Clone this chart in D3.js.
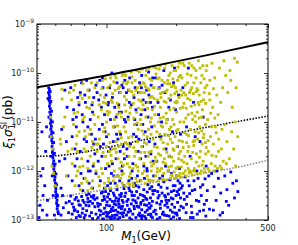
<!DOCTYPE html>
<html>
<head>
<meta charset="utf-8">
<script src="https://cdnjs.cloudflare.com/ajax/libs/d3/7.8.5/d3.min.js"></script>
<style>
body { margin: 0; background: #fff; }
svg text { font-family: "DejaVu Sans", sans-serif; }
</style>
</head>
<body>
<svg width="298" height="245"></svg>
<script>
// M1 in GeV, exponent = log10(xi1 * sigma1 in pb)
var xenon100M = [50, 89, 159, 283, 500];
var xenon100E = [-10.29, -10.09, -9.86, -9.62, -9.37];
var luxM = [50, 60, 72, 100, 150, 262, 500];
var luxE = [-11.70, -11.69, -11.65, -11.52, -11.35, -11.12, -10.88];
var xenon1tM = [50, 75, 221, 283, 346, 500];
var xenon1tE = [-12.61, -12.47, -12.12, -12.02, -11.95, -11.78];

var xTicksMajor = [100, 500];
var xTicksMinor = [60, 70, 80, 90, 200, 300, 400];
var yTicksMajor = [-13, -12, -11, -10, -9];

// resonance strip near M1 ~ mh/2
var blueBand = [[56.2,-10.3],[56.6,-10.34],[56.1,-10.4],[56.5,-10.45],[56.8,-10.5],[56.4,-10.56],[56.9,-10.62],[56.6,-10.68],[57.1,-10.73],[56.8,-10.8],[57.3,-10.86],[57.0,-10.92],[57.5,-10.97],[57.2,-11.03],[57.7,-11.09],[57.4,-11.15],[57.9,-11.2],[57.6,-11.26],[58.1,-11.32],[57.9,-11.38],[58.4,-11.43],[58.1,-11.5],[58.6,-11.56],[58.3,-11.62],[58.8,-11.67],[58.6,-11.73],[59.1,-11.79],[58.8,-11.85],[59.3,-11.9],[59.1,-11.96],[59.6,-12.02],[59.3,-12.08],[59.8,-12.13],[59.6,-12.19],[60.1,-12.25],[59.9,-12.31],[60.4,-12.36],[60.2,-12.42],[60.7,-12.48],[60.5,-12.54],[61.0,-12.6],[60.8,-12.66],[61.3,-12.71],[61.1,-12.77],[61.6,-12.83],[61.9,-12.87],
[57.0,-10.38],[57.4,-10.58],[57.8,-10.78],[58.3,-11.0],[58.7,-11.22],[59.0,-11.42],[59.5,-11.64],[59.9,-11.86],[60.4,-12.06],[60.8,-12.28],[61.3,-12.5],[61.7,-12.7],[55.8,-10.52],[56.3,-10.9],[56.9,-11.3],[57.5,-11.7],[58.2,-12.1],[58.8,-12.5],[59.5,-12.9]];

var blueLeft = [[52.5,-11.2],[55,-11.1],[53,-11.95],[54,-12.3],[51.5,-12.7],[55.2,-12.9],[53.1,-12.5],[52,-12.1],[54.5,-11.6],[51,-12.95],[55.5,-12.6],[52.8,-12.8],[64,-11.15],[66,-11.75],[68,-12.1],[63.5,-12.35],[66.8,-12.65],[63.5,-12.9],[65,-12.75],[67,-11.4],[64.5,-12.5],[68.5,-12.85],[62.5,-11.8],[67.5,-10.7],[66,-10.35]];

var blueMix = [[70,-10.3],[72,-10.75],[71,-11.3],[73,-11.9],[75,-10.5],[74,-11.1],[76,-12.3],[78,-10.2],[77,-11.6],[79,-11.0],[81,-10.6],[80,-12.15],[82,-11.4],[84,-10.35],[83,-11.8],[85,-10.95],[87,-12.35],[86,-11.25],[88,-10.5],[89,-11.65],[90,-12.05],[71,-12.2],[74,-10.9],[77,-10.4],[79,-12.4],[82,-10.15],[85,-12.0],[88,-11.45],[73,-11.55],[76,-10.65],[80,-11.35],[84,-12.25],[87,-10.8],[90,-10.25],[83,-11.1],
[91,-10.4],[93,-11.15],[92,-11.8],[95,-10.7],[94,-12.2],[97,-11.45],[96,-10.1],[99,-11.95],[98,-10.85],[101,-12.3],[100,-11.3],[103,-10.3],[102,-11.6],[105,-12.05],[104,-10.95],[107,-11.4],[106,-10.5],[109,-12.25],[108,-11.1],[111,-10.2],[110,-11.75],[113,-10.65],[112,-12.1],[115,-11.25],[114,-10.4],[117,-11.9],[116,-10.8],[119,-12.3],[118,-11.5],[120,-10.15],[94,-11.5],[98,-12.35],[102,-10.6],[106,-11.85],[110,-10.9],[114,-12.2],[118,-10.3],[96,-11.05],[104,-12.25],[112,-11.35],
[121,-11.0],[123,-11.7],[122,-10.4],[125,-12.2],[124,-10.9],[127,-11.45],[126,-10.1],[129,-12.0],[128,-10.65],[131,-11.25],[130,-11.85],[133,-10.3],[132,-12.25],[135,-11.05],[134,-10.75],[137,-11.6],[136,-12.1],[139,-10.2],[138,-11.35],[141,-10.85],[140,-12.2],[143,-11.5],[142,-10.05],[145,-11.9],[144,-10.55],[147,-11.2],[146,-12.15],[149,-10.35],[148,-11.7],[151,-10.9],[150,-12.0],[153,-11.4],[152,-9.98],[155,-10.6],[154,-12.2],[157,-11.1],[156,-10.25],[159,-11.8],[158,-10.7],[160,-12.1],
[163,-10.1],[167,-10.6],[171,-11.3],[175,-12.1],[179,-10.4],[183,-10.95],[187,-11.7],[191,-12.05],[195,-10.2],[199,-10.75],[203,-11.5],[207,-11.95],[165,-11.8],[169,-10.3],[173,-11.0],[177,-9.95],[181,-11.55],[185,-12.0],[189,-10.55],[193,-11.2],[197,-9.9],[201,-12.1],[205,-10.45],[209,-11.25],[170,-12.15],
[214,-10.3],[222,-11.1],[230,-11.7],[238,-10.6],[246,-12.0],[254,-11.4],[262,-10.9],[270,-11.9],[226,-9.9],[242,-11.3],
[71.5,-10.95],[74.5,-11.75],[77.5,-12.05],[80.5,-10.45],[83.5,-12.0],[86.5,-10.65],[89.5,-11.35],[92.5,-10.55],[95.5,-11.7],[98.5,-11.2],[101.5,-10.65],[104.5,-11.55],[107.5,-12.1],[110.5,-11.25],[113.5,-10.8],[116.5,-12.0],[119.5,-10.95],[122.5,-11.55],[125.5,-10.6],[128.5,-12.15],[131.5,-10.5],[134.5,-11.3],[137.5,-10.4],[140.5,-11.75],[143.5,-11.05],[146.5,-10.75],[149.5,-11.95],[152.5,-10.45],[155.5,-11.65],[158.5,-10.1],[162,-11.45],[168,-10.85],[174,-10.25],[180,-11.9],[186,-10.7],[78.5,-10.85],[87.5,-11.9],[96.5,-10.3],[105.5,-10.0],[114.5,-11.6],
[93.5,-10.15],[99.5,-10.45],[108.5,-10.7],[116.5,-10.25],[124.5,-10.35],[132.5,-10.95],[141.5,-10.3],[148.5,-10.6],[102.5,-11.9],[119.5,-11.75]];

var blueLow = [[69,-12.62],[71,-12.88],[70,-12.51],[72,-12.74],[74,-12.95],[73,-12.58],[76,-12.69],[75,-12.83],[78,-12.52],[77,-12.93],[80,-12.64],[79,-12.77],[82,-12.49],[81,-12.9],[84,-12.71],[83,-12.56],[86,-12.85],[85,-12.62],[88,-12.5],[87,-12.97],[89,-12.73],[71,-12.67],[74,-12.54],[76,-12.91],[79,-12.6],[82,-12.81],[84,-12.47],[87,-12.66],[90,-12.88],[73,-12.79],[77,-12.7],[80,-12.95],[83,-12.63],[86,-12.52],[89,-12.58],
[91,-12.55],[93,-12.8],[92,-12.95],[95,-12.45],[94,-12.68],[97,-12.87],[96,-12.6],[99,-12.42],[98,-12.76],[100,-12.92],[101,-12.53],[103,-12.71],[102,-12.85],[104,-12.4],[105,-12.97],[106,-12.62],[107,-12.81],[108,-12.5],[109,-12.9],[110,-12.69],[111,-12.38],[112,-12.84],[113,-12.57],[114,-12.95],[115,-12.73],[116,-12.46],[117,-12.88],[118,-12.64],[119,-12.36],[120,-12.79],[92,-12.72],[94,-12.9],[96,-12.43],[98,-12.58],[100,-12.7],[102,-12.47],[104,-12.83],[106,-12.91],[108,-12.67],[110,-12.55],[112,-12.98],[114,-12.49],[116,-12.77],[118,-12.93],[120,-12.52],[97,-12.98],[101,-12.88],[105,-12.78],[109,-12.61],[113,-12.74],[117,-12.6],[103,-12.94],[107,-12.45],[111,-12.9],[115,-12.86],
[121,-12.45],[123,-12.7],[122,-12.9],[125,-12.35],[124,-12.58],[127,-12.82],[126,-12.96],[129,-12.5],[128,-12.67],[131,-12.31],[130,-12.88],[133,-12.61],[132,-12.77],[135,-12.42],[134,-12.95],[137,-12.55],[136,-12.72],[139,-12.86],[138,-12.33],[141,-12.64],[140,-12.48],[143,-12.91],[142,-12.79],[145,-12.38],[144,-12.6],[147,-12.84],[146,-12.52],[149,-12.7],[148,-12.97],[151,-12.28],[150,-12.43],[153,-12.66],[152,-12.89],[155,-12.55],[154,-12.76],[157,-12.32],[156,-12.93],[159,-12.47],[158,-12.62],[160,-12.83],[126,-12.4],[130,-12.59],[134,-12.3],[138,-12.74],[142,-12.97],[146,-12.69],[150,-12.8],[154,-12.36],[158,-12.95],[124,-12.84],[132,-12.5],[140,-12.92],[148,-12.56],[156,-12.71],[128,-12.99],
[162,-12.4],[165,-12.65],[164,-12.88],[168,-12.28],[167,-12.55],[171,-12.76],[170,-12.95],[174,-12.45],[173,-12.62],[177,-12.22],[176,-12.84],[180,-12.53],[179,-12.7],[183,-12.35],[182,-12.91],[186,-12.6],[185,-12.47],[189,-12.8],[188,-12.18],[192,-12.68],[191,-12.42],[195,-12.94],[194,-12.57],[198,-12.3],[197,-12.74],[201,-12.86],[200,-12.5],[204,-12.2],[203,-12.64],[207,-12.97],[206,-12.38],[210,-12.72],[209,-12.55],[166,-12.98],[172,-12.33],[178,-12.9],[184,-12.74],[190,-12.98],[196,-12.4],[202,-12.9],[208,-12.25],[169,-12.5],[181,-12.6],[193,-12.84],[205,-12.48],
[213,-12.3],[217,-12.58],[221,-12.85],[225,-12.2],[229,-12.46],[233,-12.72],[237,-12.95],[241,-12.38],[245,-12.6],[249,-12.15],[253,-12.82],[257,-12.5],[261,-12.28],[265,-12.68],[269,-12.92],[273,-12.4],[277,-12.1],[215,-12.75],[223,-12.52],[231,-12.95],[239,-12.2],[247,-12.88],[255,-12.33],[263,-12.8],[271,-12.6],[219,-12.12],[235,-12.4],[251,-12.62],[267,-12.16],[279,-12.78],
[285,-12.05],[292,-12.32],[298,-12.6],[305,-12.15],[312,-12.45],[318,-12.85],[325,-12.1],[332,-12.38],[338,-12.7],[345,-12.02],[352,-12.25],[358,-12.55],[365,-12.2],[370,-12.42],[290,-12.8],[310,-12.9],[330,-12.62],[300,-12.0],
[72.5,-12.81],[75.5,-12.61],[78.5,-12.86],[81.5,-12.7],[84.5,-12.92],[87.5,-12.55],[91.5,-12.66],[94.5,-12.82],[97.5,-12.52],[100.5,-12.63],[103.5,-12.58],[106.5,-12.74],[109.5,-12.8],[112.5,-12.62],[115.5,-12.52],[118.5,-12.85],[122.5,-12.62],[125.5,-12.78],[128.5,-12.43],[131.5,-12.72],[134.5,-12.65],[137.5,-12.9],[140.5,-12.68],[143.5,-12.5],[146.5,-12.93],[149.5,-12.58],[152.5,-12.75],[155.5,-12.88],[158.5,-12.4],[162.5,-12.8],[166.5,-12.42],[170.5,-12.68],[174.5,-12.88],[178.5,-12.5],[182.5,-12.66],[186.5,-12.92],[190.5,-12.55],[194.5,-12.3],[198.5,-12.86],[202.5,-12.42],[206.5,-12.8],[210.5,-12.35],[216,-12.45],[222,-12.68],[228,-12.3],[234,-12.85],[96.3,-12.98],[104.3,-12.99],[113.3,-12.68],[99.3,-12.84],[108.3,-12.96],[117.3,-12.72]];

var yellowPts = [[64,-10.33],[64.2,-10.53],[63,-11.35],[63.3,-11.45],[58,-11.9],[59,-12.05],[57.5,-11.3],[66,-10.9],[68,-11.6],[67,-12.1],[65,-11.1],[69,-10.4],[57.2,-10.9],[58.5,-11.55],[60,-12.3],
[70.5,-10.55],[72,-11.05],[71,-11.85],[73,-10.25],[74,-11.45],[73,-12.3],[75,-10.8],[76,-11.2],[75,-12.0],[77,-10.45],[78,-11.75],[77,-12.38],[79,-10.95],[80,-11.55],[79,-10.22],[81,-12.15],[82,-10.7],[81,-11.3],[83,-11.95],[84,-10.5],[83,-12.4],[85,-11.15],[86,-10.2],[85,-11.7],[87,-12.2],[88,-10.85],[87,-11.4],[89,-10.3],[90,-12.0],[89,-11.05],[72,-10.35],[74,-12.1],[76,-10.6],[78,-12.25],[80,-10.9],[82,-11.6],[84,-11.25],[86,-12.35],[88,-11.85],[71,-11.55],[75,-11.6],[79,-11.9],[83,-10.35],[87,-10.6],[90,-11.45],
[91,-10.2],[92,-10.9],[91,-11.6],[93,-12.3],[94,-10.45],[93,-11.35],[95,-11.95],[96,-10.15],[95,-10.75],[97,-11.2],[96,-12.05],[98,-10.5],[99,-11.7],[98,-12.25],[100,-11.0],[101,-10.3],[100,-11.5],[102,-12.15],[103,-10.8],[102,-11.25],[104,-10.1],[105,-11.8],[104,-12.35],[106,-10.6],[107,-11.1],[106,-11.55],[108,-12.0],[109,-10.35],[108,-10.95],[110,-11.4],[111,-12.3],[110,-10.1],[112,-11.75],[113,-10.7],[112,-12.1],[114,-11.2],[115,-10.4],[114,-11.95],[116,-10.9],[117,-12.25],[116,-11.45],[118,-10.2],[119,-11.65],[118,-12.05],[120,-10.65],[119,-11.1],[120,-12.3],[92,-11.45],[97,-10.6],[99,-12.35],[101,-11.85],[103,-11.6],[105,-10.55],[107,-12.2],[109,-11.55],[111,-10.85],[113,-11.5],[115,-12.15],[117,-10.05],[93,-10.65],
[121,-10.05],[122,-10.55],[121,-11.2],[123,-11.85],[124,-12.25],[125,-10.35],[124,-10.95],[126,-11.5],[127,-12.05],[128,-9.98],[127,-10.7],[129,-11.3],[130,-11.95],[131,-10.45],[130,-12.25],[132,-11.05],[133,-10.15],[132,-11.7],[134,-12.15],[135,-10.8],[136,-11.4],[135,-9.95],[137,-12.0],[138,-10.55],[137,-11.15],[139,-11.75],[140,-10.25],[141,-12.2],[140,-10.95],[142,-11.5],[143,-9.92],[144,-10.65],[143,-12.05],[145,-11.25],[146,-10.4],[145,-11.85],[147,-12.25],[148,-10.9],[149,-11.45],[148,-10.05],[150,-12.1],[151,-10.6],[152,-11.15],[151,-11.7],[153,-9.9],[154,-12.2],[153,-10.35],[155,-11.0],[156,-11.6],[157,-10.15],[156,-12.0],[158,-10.75],[159,-11.35],[160,-9.88],[159,-12.2],[160,-11.85],[123,-11.45],[126,-12.28],[129,-10.2],[134,-11.6],[139,-10.4],[142,-10.75],[146,-12.0],[150,-11.3],[154,-10.5],[157,-11.9],[125,-11.7],[131,-12.3],[136,-10.3],[141,-11.05],
[161,-10.3],[162,-10.85],[161,-11.5],[163,-12.1],[164,-9.9],[165,-11.2],[164,-11.8],[166,-10.55],[167,-12.2],[168,-11.0],[169,-10.1],[168,-11.65],[170,-12.0],[171,-10.7],[172,-11.35],[171,-9.85],[173,-11.95],[174,-10.4],[175,-11.1],[174,-12.15],[176,-10.9],[177,-11.55],[178,-10.2],[177,-12.05],[179,-11.25],[180,-9.82],[181,-10.6],[180,-11.85],[182,-12.18],[183,-10.95],[184,-11.45],[183,-10.35],[185,-12.0],[186,-10.05],[187,-11.15],[186,-11.7],[188,-10.75],[189,-12.15],[190,-10.45],[189,-11.35],[191,-11.9],[192,-9.85],[193,-10.95],[192,-12.1],[194,-11.55],[195,-10.25],[196,-11.05],[195,-11.8],[197,-12.15],[198,-10.6],[199,-9.95],[198,-11.3],[200,-11.95],[201,-10.8],[202,-11.5],[201,-12.1],[203,-10.15],[204,-11.15],[205,-11.75],[206,-10.5],[205,-12.1],[207,-9.8],[208,-11.0],[209,-11.6],[210,-10.35],[210,-12.12],[166,-11.95],[172,-10.5],[178,-11.75],[184,-10.15],[190,-11.1],[196,-9.95],[202,-10.6],[208,-12.05],[170,-11.25],
[212,-10.1],[214,-10.7],[213,-11.4],[215,-12.05],[217,-9.85],[216,-11.0],[218,-11.7],[220,-10.45],[221,-12.1],[222,-11.25],[224,-10.2],[223,-11.85],[226,-10.85],[227,-11.5],[228,-9.8],[229,-12.0],[230,-10.55],[231,-11.15],[233,-11.75],[234,-10.3],[235,-12.08],[236,-10.95],[237,-11.4],[239,-9.9],[240,-11.95],[241,-10.65],[242,-11.2],[244,-10.1],[245,-11.65],[246,-12.05],[247,-10.8],[248,-11.35],[250,-9.75],[251,-11.9],[252,-10.45],[253,-11.1],[255,-11.6],[256,-10.2],[257,-12.0],[258,-10.9],[259,-11.45],[261,-9.85],[262,-11.8],[263,-10.55],[264,-11.25],[266,-12.02],[267,-10.3],[268,-11.05],[269,-11.65],[270,-9.95],[219,-12.0],[225,-11.6],[232,-10.05],[238,-12.0],[243,-11.0],[249,-10.6],[254,-12.05],[260,-10.75],[265,-11.95],[216,-10.4],
[272,-10.25],[274,-10.95],[276,-11.6],[278,-12.0],[280,-10.55],[282,-11.3],[284,-11.85],[286,-9.8],[288,-10.7],[290,-11.45],[292,-12.0],[294,-10.1],[296,-11.1],[298,-11.7],[300,-10.45],[302,-11.95],[304,-10.85],[306,-11.35],[308,-9.9],[310,-11.9],[312,-10.6],[314,-11.55],[316,-11.15],[318,-10.3],[320,-11.8],[275,-11.95],[285,-11.1],[295,-11.9],[305,-11.6],[315,-11.95],
[322,-9.75],[328,-10.05],[335,-10.4],[342,-9.95],[350,-10.7],[358,-9.7],[364,-10.3],[368,-9.78],[325,-11.05],[332,-11.4],[340,-11.75],[348,-11.2],[355,-11.55],[362,-11.9],[370,-11.3],[330,-11.85],[345,-10.15],[360,-11.0],
[95.5,-10.32],[99.5,-10.62],[103.5,-11.42],[107.5,-10.18],[111.5,-11.08],[115.5,-11.82],[119.5,-10.48],[124.5,-11.32],[128.5,-10.38],[133.5,-11.88],[137.5,-10.72],[142.5,-11.18],[147.5,-10.28],[152.5,-11.62],[157.5,-10.48],[162.5,-11.72],[167.5,-10.32],[172.5,-11.08],[177.5,-10.58],[182.5,-11.62],[187.5,-10.22],[192.5,-11.42],[197.5,-10.42],[203.5,-11.92],[208.5,-10.72],[214.5,-11.52],[220.5,-10.92],[226.5,-11.28],[232.5,-10.68],[238.5,-11.48],[244.5,-10.38],[250.5,-11.22],[256.5,-10.58],[262.5,-11.32],[268.5,-10.62],[275.5,-11.38],[282.5,-10.82],[290.5,-10.32],[298.5,-11.22],[98.2,-11.12],[102.2,-12.22],[106.2,-10.42],[110.2,-11.62],[114.2,-10.82],[118.2,-11.88],[122.2,-10.22],[126.2,-10.82],[131.2,-11.52],[136.2,-11.92],[141.2,-10.58],[146.2,-11.62],[151.2,-12.18],[156.2,-10.92],[161.2,-11.08],[166.2,-10.12],[171.2,-11.68],[176.2,-12.18],[181.2,-11.02],[186.2,-10.52],[191.2,-11.72],[196.2,-12.02],[201.2,-10.38],[206.2,-11.38],[211.2,-11.78],[216.2,-10.62],[222.2,-11.42],[228.2,-12.04],[234.2,-10.82],[240.2,-11.38],[246.2,-10.32],[252.2,-11.72],[258.2,-11.18],[264.2,-10.12],[270.2,-11.52],[278.2,-10.42],[286.2,-11.68],[294.2,-10.92],[92.6,-12.12],[96.6,-11.62],[100.6,-10.78],[104.6,-11.68],[108.6,-12.12],[112.6,-10.32],[116.6,-12.08],[120.6,-11.42],[125.6,-12.12],[130.6,-10.62],[135.6,-12.22],[140.6,-11.62],[145.6,-10.22],[150.6,-10.72],[155.6,-11.82],[160.6,-10.52],[165.6,-12.02],[170.6,-10.92],[175.6,-11.82],[180.6,-10.38],[185.6,-11.28],[190.6,-12.08],[195.6,-10.72],[200.6,-11.18],[205.6,-10.08],[210.6,-11.92],[217.6,-11.22],[224.6,-10.52],[231.6,-12.02],[237.6,-10.42],[244.6,-11.82],[251.6,-10.92],[259.6,-11.88],[267.6,-11.42],[84.4,-10.72],[80.4,-11.18],[76.4,-11.92],[72.4,-10.82],[78.4,-10.52],[86.4,-11.52],[74.4,-11.28],[82.4,-12.22],
[98.8,-10.12],[103.8,-10.25],[108.8,-10.05],[113.8,-10.28],[118.8,-10.0],[123.8,-10.18],[128.8,-10.08],[133.8,-10.35],[138.8,-9.98],[143.8,-10.2],[148.8,-9.95],[153.8,-10.12],[158.8,-10.3],[163.8,-10.02],[168.8,-9.92],[173.8,-10.15],[178.8,-9.9],[183.8,-10.22],[188.8,-10.0],[193.8,-10.12],[198.8,-10.3],[203.8,-9.88],[208.8,-10.05],[213.8,-9.8],[218.8,-10.25],[223.8,-10.02],[228.8,-10.4],[233.8,-9.85],[238.8,-10.2],[243.8,-9.95],[248.8,-10.35],[253.8,-9.9],[258.8,-10.05],[264.8,-10.4],[271.8,-9.85],[279.8,-10.15],[101.3,-10.85],[111.3,-10.62],[121.3,-10.78],[131.3,-10.92],[141.3,-10.4],[151.3,-10.32],[161.3,-10.68],[171.3,-10.42],[181.3,-10.82],[191.3,-10.28],[201.3,-10.58],[211.3,-10.45],[221.3,-10.72],[231.3,-10.35],[241.3,-10.88],[251.3,-10.65],[115.8,-11.32],[135.8,-11.02],[155.8,-11.25],[175.8,-11.42],[195.8,-11.58],[215.8,-11.82],[235.8,-11.62],[125.8,-11.92],[145.8,-11.42],[165.8,-11.52],[185.8,-11.92],[205.8,-11.65],[225.8,-11.95]];

var padL = 37, padR = 268, padT = 24, padB = 220;
var svg = d3.select("svg");

xScale = d3.scaleLog().domain([50, 500]).range([padL, padR]);
yScale = d3.scaleLog().domain([1e-13, 1e-9]).range([padB, padT]);

function pow10(e) { return Math.pow(10, e); }

svg.append("clipPath").attr("id", "plotClip")
    .append("rect").attr("x", padL).attr("y", padT)
    .attr("width", padR - padL).attr("height", padB - padT);

var plot = svg.append("g").attr("clip-path", "url(#plotClip)");

function drawPoints(pts, color) {
    plot.append("g").selectAll("rect").data(pts).enter().append("rect")
        .attr("x", function (d) { return xScale(d[0]) - 1.4; })
        .attr("y", function (d) { return yScale(pow10(d[1])) - 1.4; })
        .attr("width", 2.8).attr("height", 2.8)
        .attr("fill", color);
}

function drawBound(ms, es, color, width, dash) {
    var pts = ms.map(function (m, i) { return [m, es[i]]; });
    var line = d3.line()
        .x(function (d) { return xScale(d[0]); })
        .y(function (d) { return yScale(pow10(d[1])); })
        .curve(d3.curveMonotoneX);
    plot.append("path").attr("d", line(pts))
        .attr("fill", "none").attr("stroke", color)
        .attr("stroke-width", width)
        .attr("stroke-dasharray", dash);
}

// dotted limits sit under the scan points, solid one on top
drawBound(xenon1tM, xenon1tE, "#8c8c8c", 1.6, "1.5,1.5");
drawBound(luxM, luxE, "#000", 1.6, "1.5,1.5");

drawPoints(blueLow, "#0000ff");
drawPoints(blueMix, "#0000ff");
drawPoints(blueLeft, "#0000ff");
drawPoints(blueBand, "#0000ff");
drawPoints(yellowPts, "#bfbf00");

drawBound(xenon100M, xenon100E, "#000", 2, null);

// frame and ticks (inward on all four sides)
var yMajor = yTicksMajor.map(pow10);
var yMinor = [];
yTicksMajor.slice(0, 4).forEach(function (e) {
    for (var k = 2; k < 10; k++) yMinor.push(k * pow10(e));
});

function tickAxis(axis, tx, ty) {
    var g = svg.append("g").attr("transform", "translate(" + tx + "," + ty + ")").call(axis);
    g.select(".domain").remove();
    g.selectAll("line").attr("stroke", "#000").attr("stroke-width", 0.8);
    g.selectAll("text").remove();
}

tickAxis(d3.axisLeft(yScale).tickValues(yMajor).tickSize(-4), padL, 0);
tickAxis(d3.axisLeft(yScale).tickValues(yMinor).tickSize(-2), padL, 0);
tickAxis(d3.axisRight(yScale).tickValues(yMajor).tickSize(-4), padR, 0);
tickAxis(d3.axisRight(yScale).tickValues(yMinor).tickSize(-2), padR, 0);
tickAxis(d3.axisBottom(xScale).tickValues(xTicksMajor).tickSize(-4), 0, padB);
tickAxis(d3.axisBottom(xScale).tickValues(xTicksMinor).tickSize(-2), 0, padB);
tickAxis(d3.axisTop(xScale).tickValues(xTicksMajor).tickSize(-4), 0, padT);
tickAxis(d3.axisTop(xScale).tickValues(xTicksMinor).tickSize(-2), 0, padT);

svg.append("rect").attr("x", padL).attr("y", padT)
    .attr("width", padR - padL).attr("height", padB - padT)
    .attr("fill", "none").attr("stroke", "#000").attr("stroke-width", 1);

// tick labels
yTicksMajor.forEach(function (e) {
    var t = svg.append("text").attr("x", padL - 3).attr("y", yScale(pow10(e)) + 3)
        .attr("text-anchor", "end").attr("font-size", 8).attr("fill", "#222");
    t.append("tspan").text("10");
    t.append("tspan").attr("dy", -4).attr("font-size", 6).text("\u2212" + (-e));
});
xTicksMajor.forEach(function (m) {
    svg.append("text").attr("x", xScale(m)).attr("y", 231)
        .attr("text-anchor", "middle").attr("font-size", 8).attr("fill", "#222")
        .text(m);
});

// axis titles
var serif = "'DejaVu Serif', serif";
var xl = svg.append("text").attr("x", 146).attr("y", 240)
    .attr("text-anchor", "middle").attr("font-family", serif).attr("font-size", 12);
xl.append("tspan").attr("font-style", "italic").text("M");
xl.append("tspan").attr("font-size", 8).attr("dy", 3).text("1");
xl.append("tspan").attr("dy", -3).text("(GeV)");

var yl = svg.append("g");
var cx = 0;
function piece(txt, size, dy, italic, advance) {
    var t = yl.append("text").attr("x", cx).attr("y", dy)
        .attr("font-family", serif).attr("font-size", size)
        .attr("font-style", italic ? "italic" : "normal").text(txt);
    var w = t.node().getComputedTextLength();
    if (advance) cx += w;
    return w;
}
piece("\u03BE", 12, 0, true, true);
piece("1", 8, 3, false, true);
piece("\u03C3", 12, 0, true, true);
var wSI = piece("SI", 8, -5, false, false);
var w1 = piece("1", 8, 3, false, false);
cx += Math.max(wSI, w1) + 2;
piece("(pb)", 12, 0, false, true);
yl.attr("transform", "translate(12," + (122 + cx / 2) + ") rotate(-90)");
</script>
</body>
</html>
